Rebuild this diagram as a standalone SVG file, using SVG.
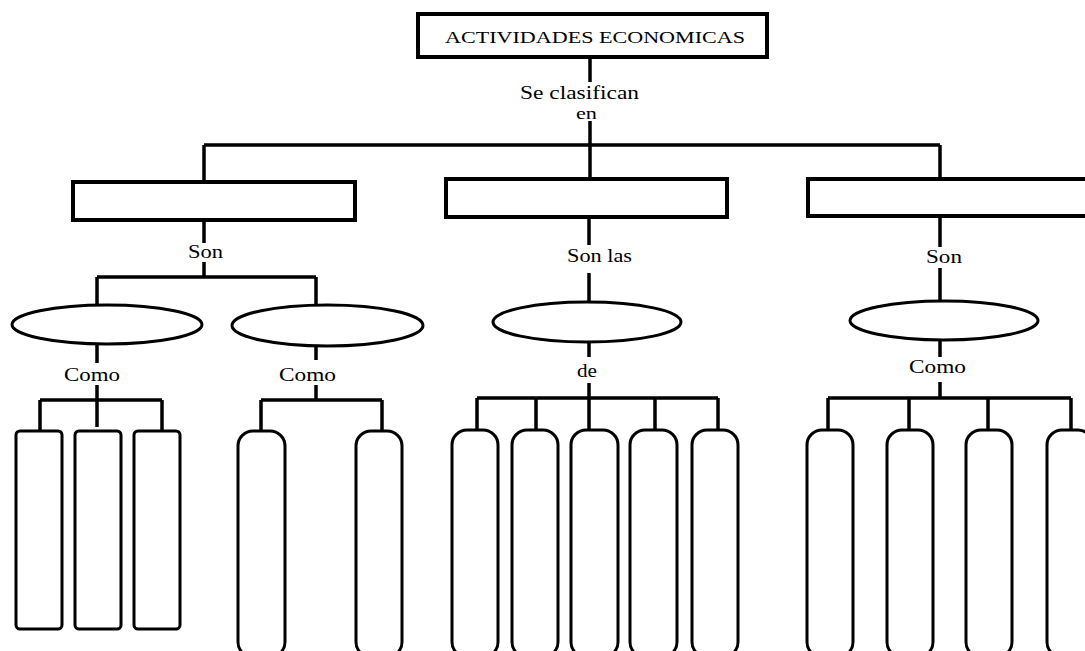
<svg xmlns="http://www.w3.org/2000/svg" width="1085" height="651" viewBox="0 0 1085 651">
<style>
.box{fill:#fff;stroke:#000;stroke-width:4}
.ell{fill:#fff;stroke:#000;stroke-width:3}
.pill{fill:#fff;stroke:#000;stroke-width:3}
.ln{fill:none;stroke:#000;stroke-width:3.5}
.t{font-family:"Liberation Serif","Times New Roman",serif;font-size:19px;fill:#000}
</style>
<rect width="1085" height="651" fill="#fff"/>
<g id="connectors" class="ln">
<path d="M590 57V82M590 121V180M204 145H940M204 145V182M940 145V179"/>
<path d="M204 220V243M204 262V277M97 277H316M97 277V305M316 277V305"/>
<path d="M97 344V363M97 385V400M40 400H162M40 400V431M97 400V427M162 400V431"/>
<path d="M316 346V360M316 385V400M261 400H382M261 400V431M382 400V431"/>
<path d="M589 217V245M589 273V302M589 342V357M589 383V398M477 398H718M477 398V430M536 398V430M589 398V430M655 398V430M718 398V430"/>
<path d="M940 216V247M940 268V301M940 340V357M940 382V398M828 398H1071M828 398V430M909 398V430M988 398V430M1071 398V430"/>
</g>
<g id="root"><rect class="box" x="418" y="14" width="349" height="43"/>
<text class="t" style="font-size:17.5px" x="445" y="43" textLength="300" lengthAdjust="spacingAndGlyphs">ACTIVIDADES ECONOMICAS</text></g>
<g id="lbl-clasifican"><text class="t" x="520" y="99" textLength="119" lengthAdjust="spacingAndGlyphs">Se clasifican</text>
<text class="t" style="font-size:17px" x="576" y="119" textLength="21" lengthAdjust="spacingAndGlyphs">en</text></g>
<g id="box-left"><rect class="box" x="73" y="182" width="282" height="38"/></g>
<g id="box-mid"><rect class="box" x="446" y="179" width="281" height="38"/></g>
<g id="box-right"><rect class="box" x="808" y="179" width="290" height="37"/></g>
<g id="lbl-son-left"><text class="t" x="188" y="258" textLength="35" lengthAdjust="spacingAndGlyphs">Son</text></g>
<g id="lbl-sonlas"><text class="t" x="567" y="262" textLength="65" lengthAdjust="spacingAndGlyphs">Son las</text></g>
<g id="lbl-son-right"><text class="t" x="926" y="263" textLength="36" lengthAdjust="spacingAndGlyphs">Son</text></g>
<g id="ell-l1"><ellipse class="ell" cx="107" cy="324.5" rx="95" ry="19.5"/></g>
<g id="ell-l2"><ellipse class="ell" cx="327.5" cy="325.5" rx="95.5" ry="20.5"/></g>
<g id="ell-mid"><ellipse class="ell" cx="587" cy="322" rx="94" ry="20"/></g>
<g id="ell-right"><ellipse class="ell" cx="944" cy="320.5" rx="94" ry="19.5"/></g>
<g id="lbl-como-l1"><text class="t" x="64" y="381" textLength="56" lengthAdjust="spacingAndGlyphs">Como</text></g>
<g id="lbl-como-l2"><text class="t" x="279" y="381" textLength="57" lengthAdjust="spacingAndGlyphs">Como</text></g>
<g id="lbl-de"><text class="t" x="577" y="377" textLength="20" lengthAdjust="spacingAndGlyphs">de</text></g>
<g id="lbl-como-right"><text class="t" x="909" y="373" textLength="57" lengthAdjust="spacingAndGlyphs">Como</text></g>
<g id="rect-l1a"><rect class="pill" x="16" y="431" width="46" height="198" rx="4"/></g>
<g id="rect-l1b"><rect class="pill" x="75" y="431" width="46" height="198" rx="4"/></g>
<g id="rect-l1c"><rect class="pill" x="134" y="431" width="46" height="198" rx="4"/></g>
<g id="pill-l2a"><rect class="pill" x="238" y="431" width="47" height="226" rx="15"/></g>
<g id="pill-l2b"><rect class="pill" x="356" y="431" width="46" height="226" rx="15"/></g>
<g id="pill-m1"><rect class="pill" x="452" y="430" width="46" height="227" rx="15"/></g>
<g id="pill-m2"><rect class="pill" x="512" y="430" width="46" height="227" rx="15"/></g>
<g id="pill-m3"><rect class="pill" x="571" y="430" width="47" height="227" rx="15"/></g>
<g id="pill-m4"><rect class="pill" x="630" y="430" width="47" height="227" rx="15"/></g>
<g id="pill-m5"><rect class="pill" x="692" y="430" width="46" height="227" rx="15"/></g>
<g id="pill-r1"><rect class="pill" x="807" y="430" width="46" height="227" rx="15"/></g>
<g id="pill-r2"><rect class="pill" x="887" y="430" width="46" height="227" rx="15"/></g>
<g id="pill-r3"><rect class="pill" x="966" y="430" width="46" height="227" rx="15"/></g>
<g id="pill-r4"><rect class="pill" x="1047" y="430" width="46" height="227" rx="15"/></g>
</svg>
